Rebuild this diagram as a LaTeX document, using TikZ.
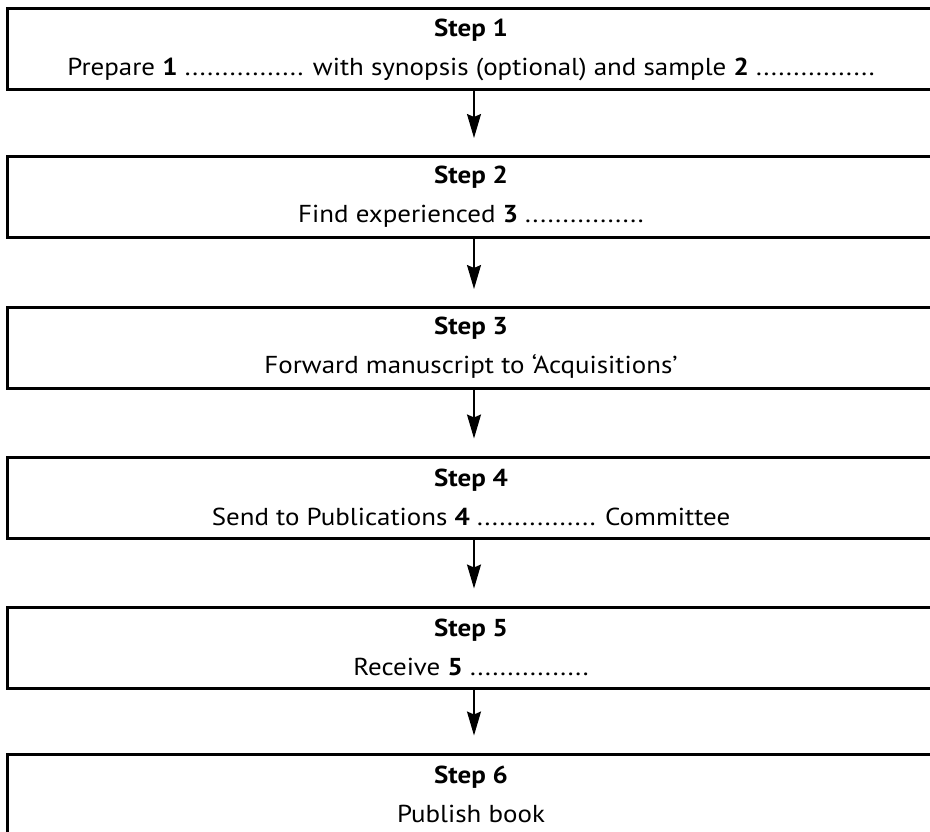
\documentclass[tikz,border=0pt]{standalone}
\usepackage{fontspec}
\setmainfont[FakeStretch=1.1]{PT Sans}
\usetikzlibrary{arrows.meta,positioning}
\tikzset{
  stepbox/.style={draw=black, line width=3pt, rectangle, minimum width=928pt, minimum height=81pt,
    inner sep=0pt, align=center, font=\fontsize{24.5}{39}\selectfont},
  flow/.style={line width=1.6pt, -{Stealth[length=24pt,width=14pt,inset=3pt]}, shorten >=17pt}
}
\begin{document}
\begin{tikzpicture}[x=1pt,y=-1pt]
\useasboundingbox[fill=white] (0,0) rectangle (930,832);
\node[stepbox] (s1) at (471,49.5) {\textbf{Step 1}\\Prepare \textbf{1} ................ with synopsis (optional) and sample \textbf{2} ................};
\node[stepbox] (s2) at (471,197) {\textbf{Step 2}\\Find experienced \textbf{3} ................};
\node[stepbox] (s3) at (471,348) {\textbf{Step 3}\\Forward manuscript to ‘Acquisitions’};
\node[stepbox] (s4) at (471,497.5) {\textbf{Step 4}\\Send to Publications \textbf{4} ................ Committee};
\node[stepbox] (s5) at (471,647.5) {\textbf{Step 5}\\Receive \textbf{5} ................};
\node[stepbox] (s6) at (471,794.5) {\textbf{Step 6}\\Publish book};
\draw[flow] (s1.south -| 474,0) -- (s2.north -| 474,0);
\draw[flow] (s2.south -| 474,0) -- (s3.north -| 474,0);
\draw[flow] (s3.south -| 474,0) -- (s4.north -| 474,0);
\draw[flow] (s4.south -| 474,0) -- (s5.north -| 474,0);
\draw[flow] (s5.south -| 474,0) -- (s6.north -| 474,0);
\end{tikzpicture}
\end{document}
